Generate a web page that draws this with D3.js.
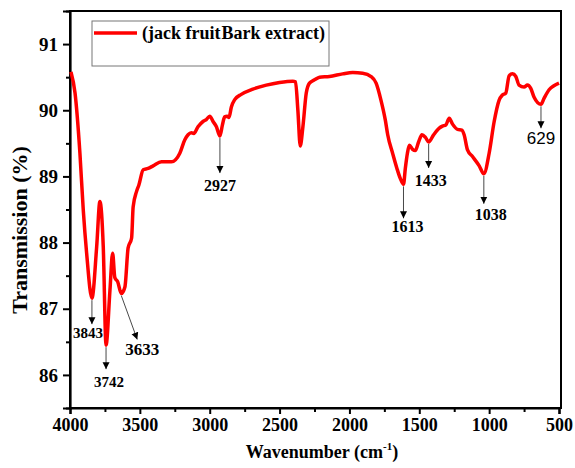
<!DOCTYPE html>
<html>
<head>
<meta charset="utf-8">
<script src="https://cdn.jsdelivr.net/npm/d3@7/dist/d3.min.js"></script>
<style>
  html, body { margin: 0; padding: 0; background: #fff; }
  svg { display: block; }
  text { font-family: "Liberation Serif", "Times New Roman", serif; }
</style>
</head>
<body>
<svg id="chart" width="575" height="468"></svg>
<script>
// FTIR spectrum of jack fruit bark extract: wavenumber (cm-1) vs transmission (%)
const wavenumbers = [3993, 3964, 3929, 3905, 3881, 3843, 3809, 3786, 3762, 3742,
  3714, 3695, 3679, 3659, 3633, 3607, 3584, 3559, 3548, 3524, 3507, 3476, 3441,
  3405, 3345, 3274, 3214, 3179, 3155, 3131, 3114, 3084, 3048, 3024, 3000, 2976,
  2952, 2927, 2909, 2893, 2876, 2862, 2845, 2821, 2774, 2691, 2595, 2500, 2405,
  2386, 2369, 2352, 2333, 2309, 2286, 2250, 2214, 2143, 2048, 1976, 1905, 1845,
  1809, 1774, 1743, 1726, 1691, 1660, 1636, 1613, 1600, 1585, 1571, 1548, 1529,
  1505, 1481, 1456, 1433, 1400, 1357, 1334, 1309, 1286, 1262, 1226, 1195, 1179,
  1155, 1119, 1071, 1038, 1000, 964, 929, 905, 881, 857, 833, 809, 786, 750, 726,
  702, 679, 629, 607, 571, 536, 500];
const transmission = [90.58, 90.26, 89.35, 88.49, 87.84, 87.16, 87.94, 88.62, 87.94, 86.45,
  87.28, 87.84, 87.47, 87.41, 87.23, 87.33, 87.92, 88.07, 88.54, 88.77, 88.87, 89.10, 89.12,
  89.16, 89.22, 89.22, 89.35, 89.55, 89.63, 89.66, 89.65, 89.75, 89.83, 89.86, 89.91, 89.83,
  89.75, 89.61, 89.78, 89.90, 89.91, 89.89, 90.05, 90.16, 90.24, 90.32, 90.38, 90.42, 90.44,
  90.43, 90.00, 89.46, 89.75, 90.26, 90.41, 90.46, 90.50, 90.51, 90.55, 90.57, 90.56, 90.51,
  90.41, 90.15, 89.85, 89.63, 89.35, 89.12, 88.97, 88.88, 89.12, 89.35, 89.47, 89.41, 89.39,
  89.52, 89.63, 89.59, 89.52, 89.62, 89.73, 89.76, 89.78, 89.88, 89.79, 89.71, 89.70, 89.63,
  89.40, 89.30, 89.16, 89.04, 89.35, 89.83, 90.15, 90.23, 90.26, 90.52, 90.55, 90.51, 90.38, 90.35, 90.38,
  90.33, 90.20, 90.09, 90.18, 90.31, 90.37, 90.41];

// Marked absorption bands
const bandLabels = [3843, 3742, 3633, 2927, 1613, 1433, 1038, 629];

const xTicks = [4000, 3500, 3000, 2500, 2000, 1500, 1000, 500];
const yTicks = [86, 87, 88, 89, 90, 91];

const legendText = ["(jack fruit", "Bark extract)"];

const series = wavenumbers.map((w, i) => ({ w, t: transmission[i] }));

const svg = d3.select("#chart");
const SERIF = '"Liberation Serif", "Times New Roman", serif';
const SANS = '"Liberation Sans", Arial, sans-serif';
const x = d3.scaleLinear().domain([4000, 500]).range([70, 559]);
const y = d3.scaleLinear().domain([85.5, 91.5]).range([408, 11]);

// Frame (top and right borders)
svg.append("rect")
  .attr("x", x(4000)).attr("y", y(91.5))
  .attr("width", 561 - x(4000)).attr("height", y(85.5) - y(91.5))
  .attr("fill", "none").attr("stroke", "#000").attr("stroke-width", 2);

// Axes
const xAxis = d3.axisBottom(x).tickValues(xTicks).tickSize(6).tickPadding(4)
  .tickFormat(d3.format("d"));
const gx = svg.append("g").attr("transform", `translate(0,${y(85.5)})`).call(xAxis);
const xMinor = d3.axisBottom(x).tickValues(d3.range(3750, 500, -500)).tickSize(4).tickFormat("");
svg.append("g").attr("transform", `translate(0,${y(85.5)})`).call(xMinor)
  .call(g => g.select(".domain").remove());

const yAxis = d3.axisLeft(y).tickValues(yTicks).tickSize(7).tickPadding(5)
  .tickFormat(d3.format("d"));
const gy = svg.append("g").attr("transform", `translate(${x(4000)},0)`).call(yAxis);
const yMinor = d3.axisLeft(y).tickValues(d3.range(85.5, 91.6, 1)).tickSize(4).tickFormat("");
svg.append("g").attr("transform", `translate(${x(4000)},0)`).call(yMinor)
  .call(g => g.select(".domain").remove());

svg.selectAll(".domain").attr("stroke-width", 2.2);
svg.selectAll(".tick line").attr("stroke-width", 2);
gx.selectAll(".tick text").style("font-size", "18px").style("font-weight", "bold")
  .style("font-family", SERIF).attr("fill", "#000");
gy.selectAll(".tick text").style("font-size", "19px").style("font-weight", "bold")
  .style("font-family", SERIF).attr("fill", "#000");

// Axis titles
const xt = svg.append("text")
  .attr("x", 322).attr("y", 458).attr("text-anchor", "middle")
  .style("font-size", "18px").style("font-weight", "bold");
xt.append("tspan").text("Wavenumber (cm");
xt.append("tspan").text("-1").style("font-size", "11px").attr("dy", -8);
xt.append("tspan").text(")").attr("dy", 8);

svg.append("text")
  .attr("transform", "translate(27,230) rotate(-90)")
  .attr("text-anchor", "middle")
  .style("font-size", "22px").style("font-weight", "bold")
  .text("Transmission (%)");

// Spectrum line
const line = d3.line().x(d => x(d.w)).y(d => y(d.t)).curve(d3.curveMonotoneX);
svg.append("path").datum(series)
  .attr("d", line)
  .attr("fill", "none").attr("stroke", "#ff0000").attr("stroke-width", 3.5)
  .attr("stroke-linejoin", "round");

// Arrowhead marker
svg.append("defs").append("marker")
  .attr("id", "arrow").attr("viewBox", "0 0 10 10")
  .attr("refX", 10).attr("refY", 5)
  .attr("markerWidth", 7).attr("markerHeight", 9)
  .attr("markerUnits", "userSpaceOnUse")
  .attr("orient", "auto")
  .append("path").attr("d", "M0,0 L10,5 L0,10 z").attr("fill", "#000");

// Annotation layout for each band: arrow drop, label offsets, font
const annLayout = {
  3843: { dx: 0, len: 24, lx: -4, ly: 38, size: 15, font: SERIF, bold: true },
  3742: { dx: 0, len: 22, lx: 3, ly: 40, size: 15, font: SERIF, bold: true },
  3633: { dx: 16, len: 44, lx: 21, ly: 59, size: 17, font: SERIF, bold: true },
  2927: { dx: 0, len: 35, lx: 0, ly: 53, size: 16, font: SERIF, bold: true },
  1613: { dx: 0, len: 32, lx: 4, ly: 46, size: 16, font: SERIF, bold: true },
  1433: { dx: 0, len: 24, lx: 2, ly: 42, size: 16, font: SERIF, bold: true },
  1038: { dx: 0, len: 28, lx: 7, ly: 44, size: 16, font: SERIF, bold: true },
  629:  { dx: 0, len: 22, lx: 0, ly: 38, size: 17, font: SANS, bold: false }
};

bandLabels.forEach(b => {
  const p = series.find(d => d.w === b);
  const L = annLayout[b];
  const px = x(p.w), py = y(p.t) + 2;
  svg.append("line")
    .attr("x1", px).attr("y1", py)
    .attr("x2", px + L.dx).attr("y2", py + L.len)
    .attr("stroke", "#333").attr("stroke-width", 0.9)
    .attr("marker-end", "url(#arrow)");
  svg.append("text")
    .attr("x", px + L.lx).attr("y", py + L.ly)
    .attr("text-anchor", "middle")
    .style("font-size", L.size + "px")
    .style("font-weight", L.bold ? "bold" : "normal")
    .style("font-family", L.font)
    .text(b);
});

// Legend
const lg = svg.append("g");
lg.append("rect").attr("x", 92).attr("y", 21).attr("width", 237).attr("height", 45)
  .attr("fill", "#fff").attr("stroke", "#777").attr("stroke-width", 1);
lg.append("line").attr("x1", 94).attr("x2", 137).attr("y1", 33).attr("y2", 33)
  .attr("stroke", "#ff0000").attr("stroke-width", 3.5);
const lt = lg.append("text").attr("x", 142).attr("y", 39)
  .style("font-size", "18px").style("font-weight", "bold");
lt.append("tspan").text(legendText[0]);
lt.append("tspan").attr("dx", 1).text(legendText[1]);
</script>
</body>
</html>
